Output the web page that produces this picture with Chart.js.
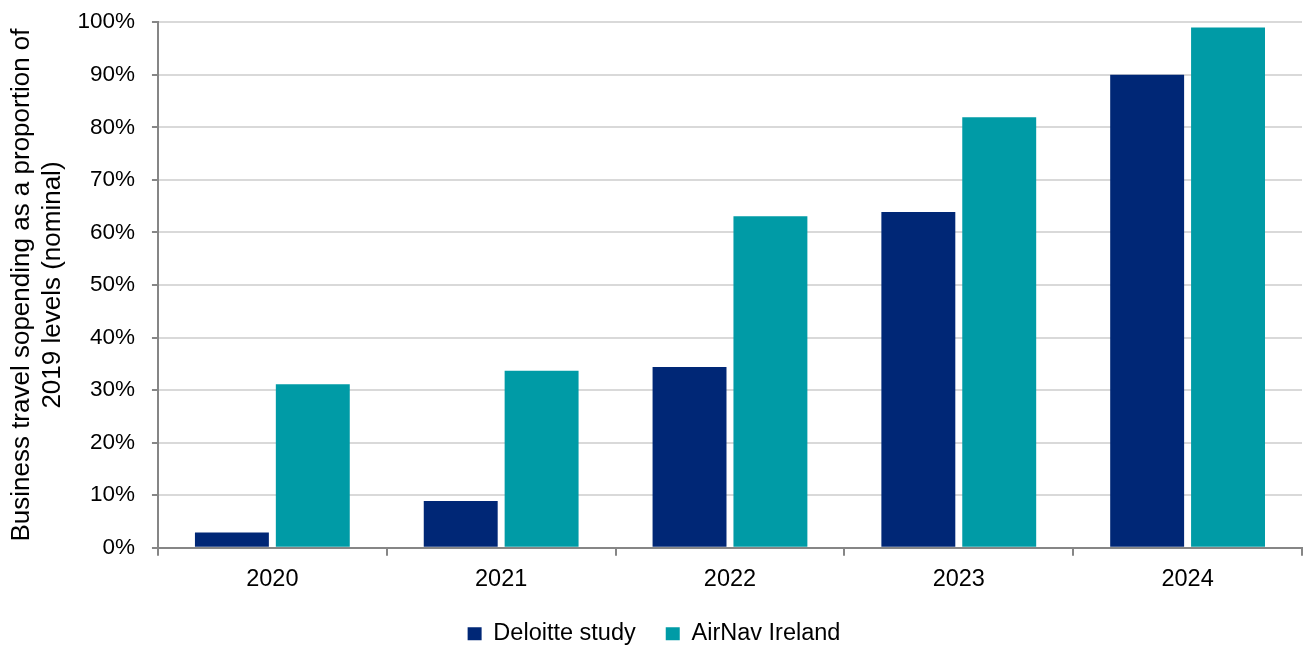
<!DOCTYPE html>
<html>
<head>
<meta charset="utf-8">
<script src="https://cdn.jsdelivr.net/npm/chart.js@4"></script>
<style>
  html, body { margin: 0; padding: 0; background: #fff; }
  #wrap { width: 1304px; height: 646px; }
</style>
</head>
<body>
<div id="wrap"><canvas id="travelChart"></canvas></div>
<script>
const years = ['2020', '2021', '2022', '2023', '2024'];
const deloitte = [2.9, 8.9, 34.4, 63.9, 90.0];
const airnav = [31.1, 33.7, 63.1, 81.9, 99.0];
const seriesNames = ['Deloitte study', 'AirNav Ireland'];
const colors = ['#002776', '#009ba6'];

const FONT = 'Liberation Sans, Arial, sans-serif';

const ctx = document.getElementById('travelChart').getContext('2d');
new Chart(ctx, {
    type: 'bar',
    data: {
        labels: years,
        datasets: [{
            label: seriesNames[0],
            data: deloitte,
            backgroundColor: colors[0],
            categoryPercentage: 0.707,
            barPercentage: 0.914
        }, {
            label: seriesNames[1],
            data: airnav,
            backgroundColor: colors[1],
            categoryPercentage: 0.707,
            barPercentage: 0.914
        }]
    },
    options: {
        responsive: true,
        maintainAspectRatio: false,
        animation: false,
        layout: { padding: { top: 0, right: 2, left: 6, bottom: 0 } },
        plugins: {
            tooltip: { enabled: false },
            legend: {
                position: 'bottom',
                maxHeight: 54,
                labels: {
                    boxWidth: 14,
                    boxHeight: 13,
                    padding: 30,
                    color: '#000',
                    font: { family: FONT, size: 23.5 }
                }
            }
        },
        scales: {
            x: {
                afterFit: scale => { scale.height -= 12; },
                grid: {
                    offset: true,
                    drawOnChartArea: false,
                    tickLength: 8,
                    tickColor: '#868686',
                    lineWidth: 2
                },
                border: { color: '#868686', width: 2 },
                ticks: {
                    color: '#000',
                    padding: 10,
                    font: { family: FONT, size: 23.5 }
                }
            },
            y: {
                min: 0,
                max: 100,
                afterFit: scale => {
                    scale.width -= 8;
                    scale.paddingTop = Math.max(0, scale.paddingTop - 6);
                },
                grid: {
                    color: '#d9d9d9',
                    lineWidth: 2,
                    tickLength: 6,
                    tickColor: '#868686'
                },
                border: { color: '#868686', width: 2 },
                ticks: {
                    stepSize: 10,
                    color: '#000',
                    padding: 17,
                    font: { family: FONT, size: 22.5, lineHeight: 1 },
                    callback: v => v + '%'
                },
                title: {
                    display: true,
                    text: ['Business travel sopending as a proportion of', '2019 levels (nominal)'],
                    color: '#000',
                    padding: { top: 0, bottom: 0 },
                    font: { family: FONT, size: 26, lineHeight: 1.2 }
                }
            }
        }
    }
});
</script>
</body>
</html>
